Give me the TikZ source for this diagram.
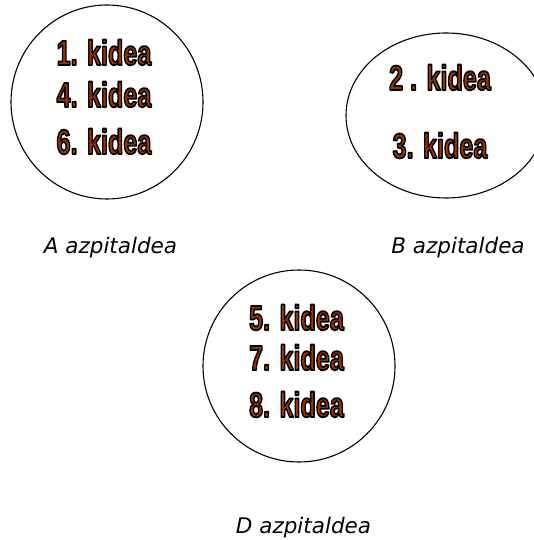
\documentclass[tikz,border=0pt]{standalone}
\usepackage{fontspec}
\usepackage{graphicx}
\setmainfont{Liberation Sans}
\newfontfamily\labfont{DejaVu Sans}
\definecolor{kidbrown}{RGB}{153,51,0}
\newcommand\outlined[1]{\special{pdf:code q 2 Tr 1.8 w 0 0 0 RG 1 j}#1\special{pdf:code Q}}
\tikzset{
  grp/.style={draw=black, line width=1.1pt},
  kidt/.style={anchor=base, inner sep=0pt, text=kidbrown, font=\fontsize{35}{35}\selectfont\bfseries},
  lab/.style={anchor=base, inner sep=0pt, font=\labfont\itshape\fontsize{21.5}{21.5}\selectfont}
}
\newcommand\kidnode[4]{%
  \node[kidt] (#1) at (#2,#3) {\scalebox{0.72}[1]{\outlined{#4}}};
}
\begin{document}
\begin{tikzpicture}[x=1pt,y=-1pt]
\useasboundingbox (0,0) rectangle (533,540);
% groups
\draw[grp] (107,102) ellipse [x radius=96, y radius=97];
\draw[grp] (446,115.5) ellipse [x radius=100, y radius=82.5];
\draw[grp] (299,366) circle [radius=96];
% members
\kidnode{k1}{104}{65}{1. kidea}
\kidnode{k4}{104}{107}{4. kidea}
\kidnode{k6}{104}{154}{6. kidea}
\kidnode{k2}{440}{90}{2 . kidea}
\kidnode{k3}{440}{158}{3. kidea}
\kidnode{k5}{296.5}{330}{5. kidea}
\kidnode{k7}{296.5}{370}{7. kidea}
\kidnode{k8}{296.5}{417}{8. kidea}
% labels
\node[lab] (la) at (110.5,253) {A azpitaldea};
\node[lab] (lb) at (458,253) {B azpitaldea};
\node[lab] (ld) at (303.5,533) {D azpitaldea};
\end{tikzpicture}
\end{document}
